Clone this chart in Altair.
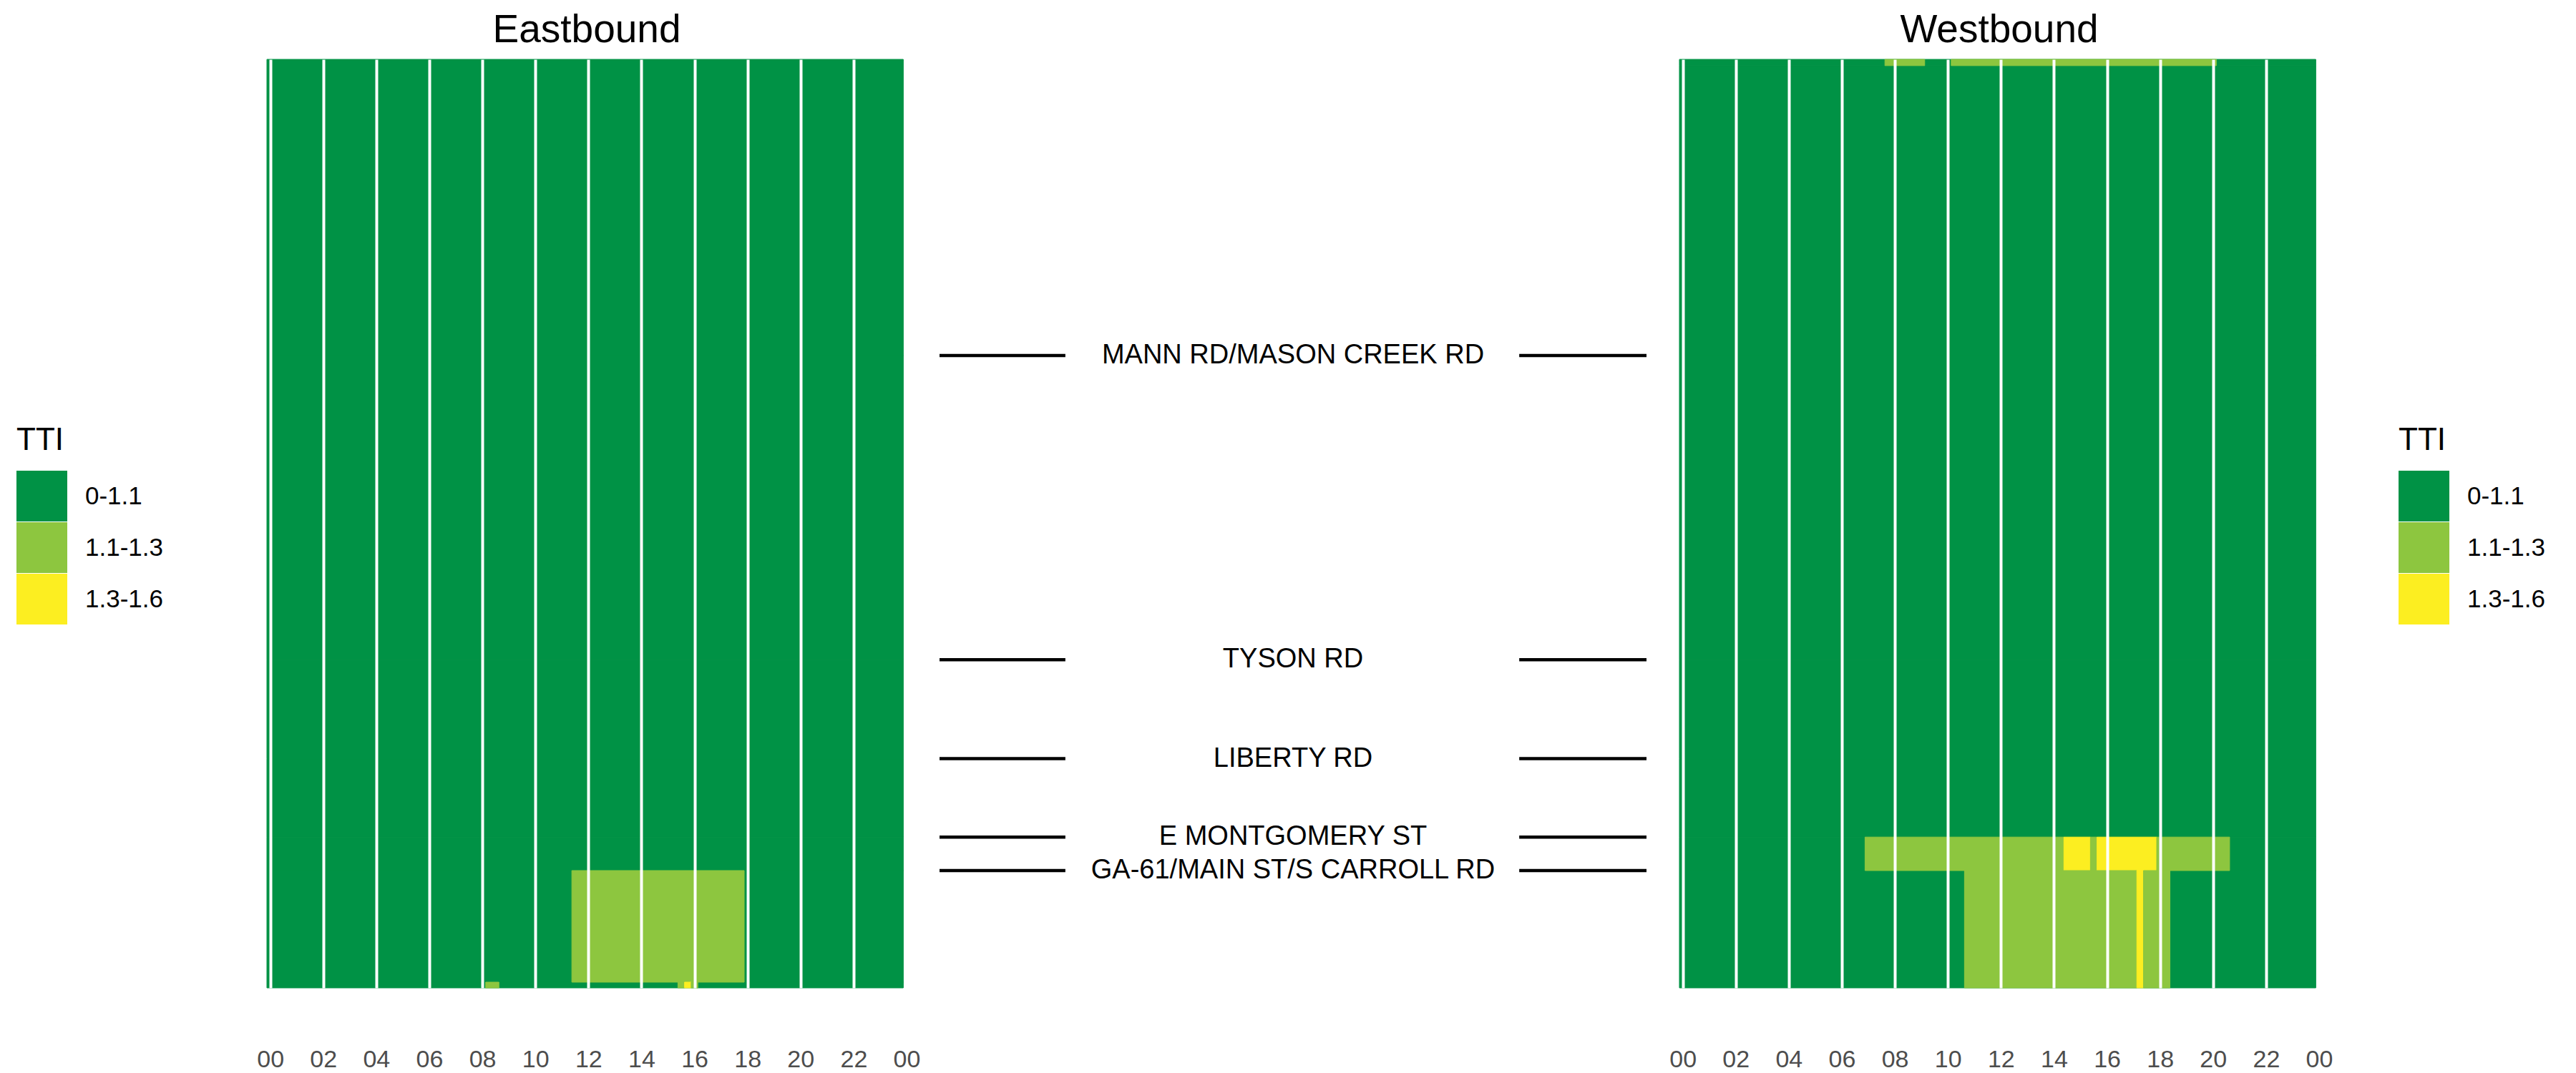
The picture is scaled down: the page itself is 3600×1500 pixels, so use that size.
import altair as alt
import pandas as pd

# ---------------- data ----------------
CATEGORIES = ["0-1.1", "1.1-1.3", "1.3-1.6"]
COLORS = ["#009245", "#8DC63F", "#FCEE21"]

HOUR_TICKS = [0, 2, 4, 6, 8, 10, 12, 14, 16, 18, 20, 22, 24]

# cross streets and their position along the corridor (miles from the top)
INTERSECTIONS = [
    "MANN RD/MASON CREEK RD",
    "TYSON RD",
    "LIBERTY RD",
    "E MONTGOMERY ST",
    "GA-61/MAIN ST/S CARROLL RD",
]
INTERSECTION_MI = [1.035, 2.098, 2.444, 2.718, 2.835]
CORRIDOR_END_MI = 3.245

# segment breaks (miles) for each direction
EB_BREAKS = [0.0, 1.035, 2.098, 2.444, 2.718, 2.835, 3.225, 3.245]
WB_BREAKS = [0.0, 0.022, 1.035, 2.098, 2.444, 2.718, 2.835, 3.245]

# 15-minute intervals (first, last) with a TTI above 1.1, per segment
# (segment start mi, segment end mi, first interval, last interval, TTI class)
EB_RUNS = [
    (2.835, 3.225, "11:30", "17:45", "1.1-1.3"),
    (3.225, 3.245, "08:15", "08:30", "1.1-1.3"),
    (3.225, 3.245, "15:30", "15:30", "1.1-1.3"),
    (3.225, 3.245, "15:45", "15:45", "1.3-1.6"),
    (3.225, 3.245, "16:00", "16:00", "1.1-1.3"),
]
WB_RUNS = [
    (0.0, 0.022, "07:45", "09:00", "1.1-1.3"),
    (0.0, 0.022, "10:15", "20:00", "1.1-1.3"),
    (2.718, 2.835, "07:00", "14:15", "1.1-1.3"),
    (2.718, 2.835, "14:30", "15:15", "1.3-1.6"),
    (2.718, 2.835, "15:30", "15:30", "1.1-1.3"),
    (2.718, 2.835, "15:45", "17:45", "1.3-1.6"),
    (2.718, 2.835, "18:00", "20:30", "1.1-1.3"),
    (2.835, 3.245, "10:45", "17:00", "1.1-1.3"),
    (2.835, 3.245, "17:15", "17:15", "1.3-1.6"),
    (2.835, 3.245, "17:30", "18:15", "1.1-1.3"),
]
FIRST_INTERVAL = "00:00"
LAST_INTERVAL = "23:45"
HALF_INTERVAL_H = 0.125


def hours(hhmm):
    h, m = hhmm.split(":")
    return int(h) + int(m) / 60.0


def build(breaks, runs):
    rows = []
    for a, b in zip(breaks[:-1], breaks[1:]):
        rows.append(dict(y0=a, y1=b,
                         x0=hours(FIRST_INTERVAL) - HALF_INTERVAL_H,
                         x1=hours(LAST_INTERVAL) + HALF_INTERVAL_H,
                         TTI=CATEGORIES[0]))
    for a, b, first, last, cat in runs:
        rows.append(dict(y0=a, y1=b,
                         x0=hours(first) - HALF_INTERVAL_H,
                         x1=hours(last) + HALF_INTERVAL_H,
                         TTI=cat))
    return pd.DataFrame(rows)


eb_df = build(EB_BREAKS, EB_RUNS)
wb_df = build(WB_BREAKS, WB_RUNS)
mid_df = pd.DataFrame({"name": INTERSECTIONS, "mi": INTERSECTION_MI})

# ---------------- styling ----------------
FONT = "Liberation Sans"
PANEL_W = 894
PANEL_H = 1298
MID_W = 988

y_scale = alt.Scale(domain=[0, CORRIDOR_END_MI], reverse=True, nice=False, zero=False)
x_scale = alt.Scale(domain=[-HALF_INTERVAL_H, 24], nice=False, zero=False)
color_scale = alt.Scale(domain=CATEGORIES, range=COLORS)

x_axis = alt.Axis(
    values=HOUR_TICKS,
    grid=True, gridColor="#ffffff", gridWidth=4, gridOpacity=1,
    zindex=1, domain=False, ticks=False,
    labelExpr="datum.value == 24 ? '00' : (datum.value < 10 ? '0' + datum.value : '' + datum.value)",
    labelFont=FONT, labelFontSize=34, labelColor="#4d4d4d",
    labelPadding=83, labelFlush=False, labelOverlap=False, labelBound=False,
)


def heat(df, title, legend_x):
    legend = alt.Legend(
        title="TTI", orient="none", legendX=legend_x, legendY=511,
        symbolType="square", symbolSize=5041, symbolStrokeWidth=0,
        symbolOpacity=1, rowPadding=1, labelOffset=25,
        labelFont=FONT, labelFontSize=35, labelColor="#000000", labelLimit=400,
        titleFont=FONT, titleFontSize=44, titleFontWeight="normal",
        titleColor="#000000", titlePadding=20,
    )
    return (
        alt.Chart(df)
        .mark_rect(strokeWidth=1)
        .encode(
            x=alt.X("x0:Q", scale=x_scale, axis=x_axis, title=None),
            x2="x1:Q",
            y=alt.Y("y0:Q", scale=y_scale, axis=None),
            y2="y1:Q",
            color=alt.Color("TTI:N", scale=color_scale, legend=legend),
            stroke=alt.Stroke("TTI:N", scale=color_scale, legend=None),
        )
        .properties(
            width=PANEL_W, height=PANEL_H,
            title=alt.TitleParams(
                title, font=FONT, fontSize=55, fontWeight="normal",
                color="#000000", anchor="middle", baseline="alphabetic", offset=-31,
            ),
        )
    )


eb = heat(eb_df, "Eastbound", -350)
wb = heat(wb_df, "Westbound", 1005)

mid_x = alt.Scale(domain=[0, 1], nice=False, zero=False)
base = alt.Chart(mid_df).encode(y=alt.Y("mi:Q", scale=y_scale, axis=None))
left_rules = base.mark_rule(strokeWidth=4.5, color="#000000").encode(
    x=alt.XDatum(0.0, scale=mid_x, axis=None), x2=alt.X2Datum(0.178)
)
right_rules = base.mark_rule(strokeWidth=4.5, color="#000000").encode(
    x=alt.XDatum(0.82, scale=mid_x, axis=None), x2=alt.X2Datum(1.0)
)
labels = base.mark_text(
    font=FONT, fontSize=38, color="#000000", align="center", baseline="middle"
).encode(x=alt.XDatum(0.5, scale=mid_x, axis=None), text="name:N")
mid = alt.layer(left_rules, right_rules, labels).properties(width=MID_W, height=PANEL_H)

chart = (
    alt.hconcat(eb, mid, wb, spacing=46, bounds="flush")
    .resolve_scale(color="independent", stroke="independent", x="independent", y="independent")
    .resolve_legend(color="independent")
    .configure_view(strokeWidth=0)
    .properties(padding={"left": 15, "top": 6, "right": 5, "bottom": 0}, background="#ffffff")
)

chart.save("out.html", embed_options={"renderer": "svg", "actions": False})
